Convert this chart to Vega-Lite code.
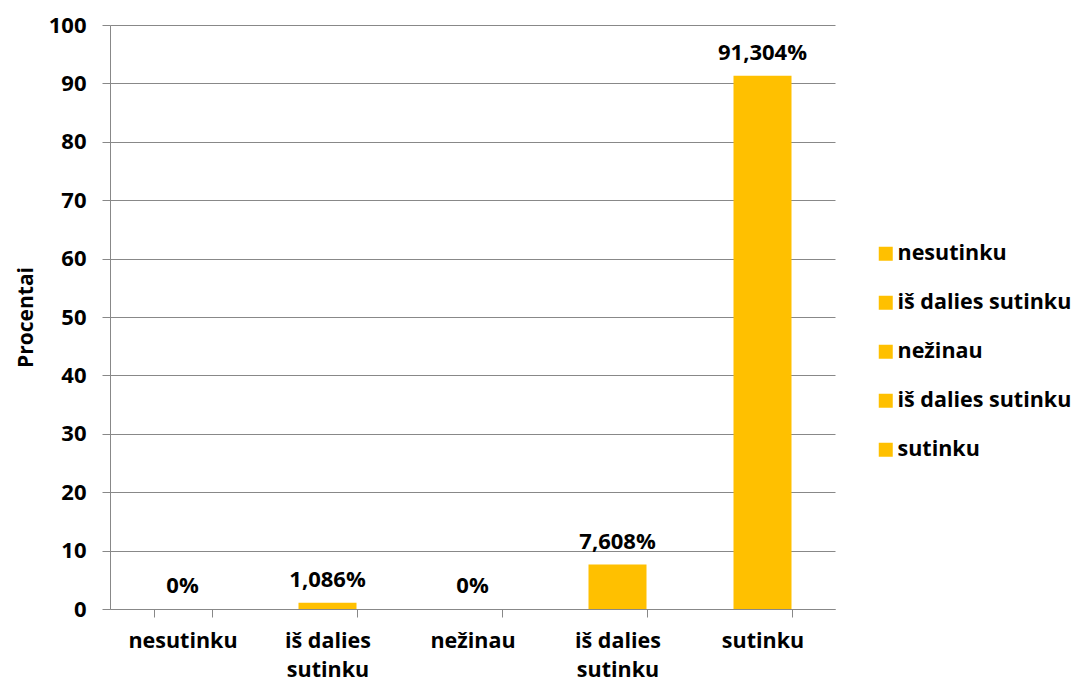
{
  "$schema": "https://vega.github.io/schema/vega-lite/v6.json",
  "width": 725,
  "height": 584,
  "autosize": {"type": "none"},
  "padding": {"left": 110, "top": 25, "right": 240, "bottom": 75},
  "background": "white",
  "config": {
    "font": "Open Sans",
    "view": {"stroke": null}
  },
  "data": {
    "values": [
      {"k": "a", "cat": "nesutinku", "v": 0, "txt": "0%"},
      {"k": "b", "cat": "iš dalies sutinku", "v": 1.086, "txt": "1,086%"},
      {"k": "c", "cat": "nežinau", "v": 0, "txt": "0%"},
      {"k": "d", "cat": "iš dalies sutinku", "v": 7.608, "txt": "7,608%"},
      {"k": "e", "cat": "sutinku", "v": 91.304, "txt": "91,304%"}
    ]
  },
  "encoding": {
    "x": {
      "field": "k",
      "type": "nominal",
      "sort": null,
      "scale": {"paddingInner": 0.6, "paddingOuter": 0.3},
      "axis": {
        "title": null,
        "labelAngle": 0,
        "labelFontSize": 21.5,
        "labelFontWeight": "bold",
        "labelColor": "black",
        "labelPadding": 13,
        "labelLineHeight": 29,
        "labelExpr": "datum.value == 'a' ? 'nesutinku' : datum.value == 'c' ? 'nežinau' : datum.value == 'e' ? 'sutinku' : (datum.value == 'b' || datum.value == 'd') ? ['iš dalies', 'sutinku'] : ''",
        "tickBand": "extent",
        "tickSize": 8,
        "tickColor": "#888888",
        "domainColor": "#888888",
        "grid": false
      }
    },
    "y": {
      "field": "v",
      "type": "quantitative",
      "scale": {"domain": [0, 100], "nice": false},
      "axis": {
        "title": "Procentai",
        "titleFontSize": 21,
        "titleFontWeight": "bold",
        "titleColor": "black",
        "titlePadding": 12,
        "values": [0, 10, 20, 30, 40, 50, 60, 70, 80, 90, 100],
        "labelFontSize": 22,
        "labelFontWeight": "bold",
        "labelColor": "black",
        "labelPadding": 16,
        "tickSize": 8,
        "tickColor": "#888888",
        "domainColor": "#888888",
        "gridColor": "#888888",
        "grid": true
      }
    }
  },
  "layer": [
    {
      "mark": {"type": "bar"},
      "encoding": {
        "color": {
          "field": "k",
          "type": "nominal",
          "sort": null,
          "scale": {"range": ["#FFC000", "#FFC000", "#FFC000", "#FFC000", "#FFC000"]},
          "legend": {
            "title": null,
            "orient": "none",
            "legendX": 765,
            "legendY": 218,
            "symbolType": "square",
            "symbolSize": 196,
            "symbolStrokeWidth": 0,
            "labelFontSize": 21.5,
            "labelFontWeight": "bold",
            "labelColor": "black",
            "labelOffset": 1,
            "rowPadding": 26,
            "labelLimit": 250,
            "labelExpr": "datum.value == 'a' ? 'nesutinku' : datum.value == 'c' ? 'nežinau' : datum.value == 'e' ? 'sutinku' : 'iš dalies sutinku'"
          }
        }
      }
    },
    {
      "mark": {"type": "text", "baseline": "alphabetic", "dy": -16, "fontSize": 22, "fontWeight": "bold", "color": "black"},
      "encoding": {
        "text": {"field": "txt"}
      }
    }
  ]
}
